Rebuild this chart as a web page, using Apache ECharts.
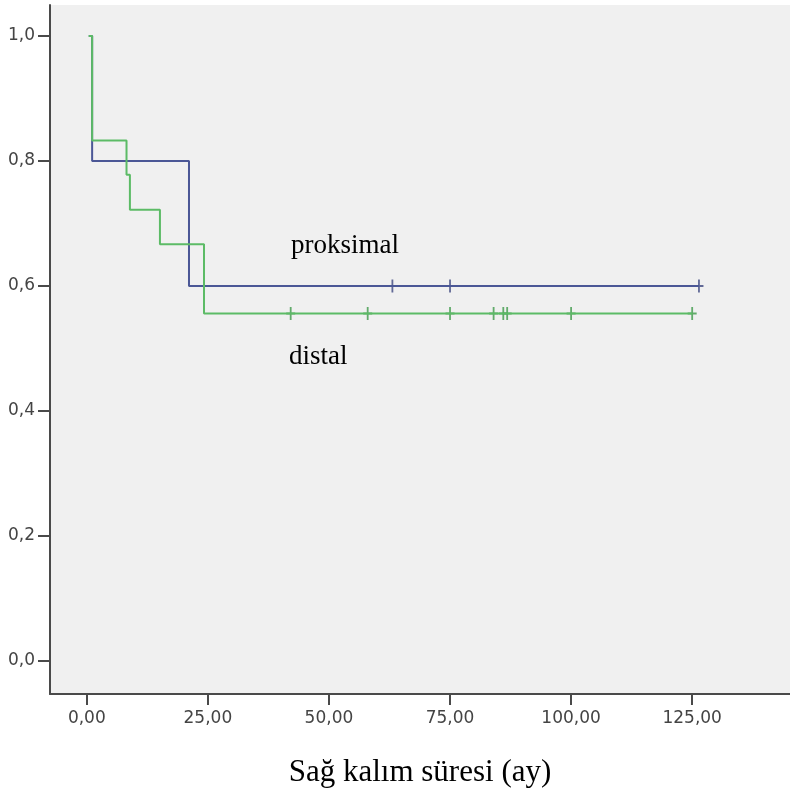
<!DOCTYPE html>
<html>
<head>
<meta charset="utf-8">
<script src="https://cdn.jsdelivr.net/npm/echarts@6/dist/echarts.min.js"></script>
<style>
  html, body { margin: 0; padding: 0; background: #ffffff; }
  #chart { width: 790px; height: 794px; }
</style>
</head>
<body>
<div id="chart"></div>
<script>
// Kaplan-Meier survival curves: time (months) and survival proportion at each step
const proksimalTimes = [0.4, 1.1, 21.1, 126.4];
const proksimalSurv  = [1.0, 0.8, 0.6, 0.6];
const proksimalCensorTimes = [63.1, 75.0, 126.4];
const proksimalCensorSurv  = [0.6, 0.6, 0.6];

const distalTimes = [0.4, 1.1, 8.2, 8.9, 15.1, 24.2, 125.0];
const distalSurv  = [1.0, 0.833, 0.778, 0.722, 0.667, 0.556, 0.556];
const distalCensorTimes = [42.1, 58.0, 75.0, 84.0, 86.0, 86.8, 100.0, 125.0];
const distalCensorSurv  = [0.556, 0.556, 0.556, 0.556, 0.556, 0.556, 0.556, 0.556];

const xTicks = [0, 25, 50, 75, 100, 125];
const yTicks = [0, 0.2, 0.4, 0.6, 0.8, 1.0];

const xTitle = 'Sağ kalım süresi (ay)';
const groupNames = ['proksimal', 'distal'];

const zip = (a, b) => a.map((v, i) => [v, b[i]]);

const BLUE = '#4b5796';
const GREEN = '#5cbb66';
const PLUS = 'path://M4,0 L6,0 L6,4.2 L10,4.2 L10,5.8 L6,5.8 L6,10 L4,10 L4,5.8 L0,5.8 L0,4.2 L4,4.2 Z';

const chart = echarts.init(document.getElementById('chart'), null, { renderer: 'canvas' });

const tickFont = { fontFamily: 'DejaVu Sans', fontSize: 17, color: '#444444' };

chart.setOption({
  animation: false,
  backgroundColor: '#ffffff',
  grid: {
    left: 50, top: 5, right: 0, bottom: 100,
    show: true, backgroundColor: '#f0f0f0', borderWidth: 0
  },
  xAxis: {
    type: 'value',
    min: -7.6, max: 145.2,
    name: xTitle,
    nameLocation: 'middle',
    nameGap: 63,
    nameTextStyle: { fontFamily: 'Liberation Serif', fontSize: 31, color: '#000000' },
    axisLine: { show: true, onZero: false, lineStyle: { color: '#4a4a4a', width: 2 } },
    axisTick: { show: true, length: 11, customValues: xTicks, lineStyle: { color: '#4a4a4a', width: 2 } },
    axisLabel: Object.assign({
      customValues: xTicks, margin: 16,
      formatter: v => v.toFixed(2).replace('.', ',')
    }, tickFont),
    splitLine: { show: false }
  },
  yAxis: {
    type: 'value',
    min: -0.0528, max: 1.0496,
    axisLine: { show: true, onZero: false, lineStyle: { color: '#4a4a4a', width: 2 } },
    axisTick: { show: true, length: 12, customValues: yTicks, lineStyle: { color: '#4a4a4a', width: 2 } },
    axisLabel: Object.assign({
      customValues: yTicks, margin: 15,
      formatter: v => v.toFixed(1).replace('.', ',')
    }, tickFont),
    splitLine: { show: false }
  },
  series: [
    {
      name: groupNames[0], type: 'line', step: 'end',
      data: zip(proksimalTimes, proksimalSurv),
      showSymbol: false, lineStyle: { color: BLUE, width: 2 }
    },
    {
      name: groupNames[1], type: 'line', step: 'end',
      data: zip(distalTimes, distalSurv),
      showSymbol: false, lineStyle: { color: GREEN, width: 2 }
    },
    {
      type: 'scatter', data: zip(proksimalCensorTimes, proksimalCensorSurv),
      symbol: PLUS, symbolSize: [9, 13], itemStyle: { color: '#3d4780' }
    },
    {
      type: 'scatter', data: zip(distalCensorTimes, distalCensorSurv),
      symbol: PLUS, symbolSize: [9, 13], itemStyle: { color: '#3f9a4a' }
    }
  ],
  graphic: [
    {
      type: 'text', x: 291, y: 246,
      style: { text: groupNames[0], font: '27px "Liberation Serif"', fill: '#000000', verticalAlign: 'middle' }
    },
    {
      type: 'text', x: 289, y: 357,
      style: { text: groupNames[1], font: '27px "Liberation Serif"', fill: '#000000', verticalAlign: 'middle' }
    }
  ]
});
</script>
</body>
</html>
